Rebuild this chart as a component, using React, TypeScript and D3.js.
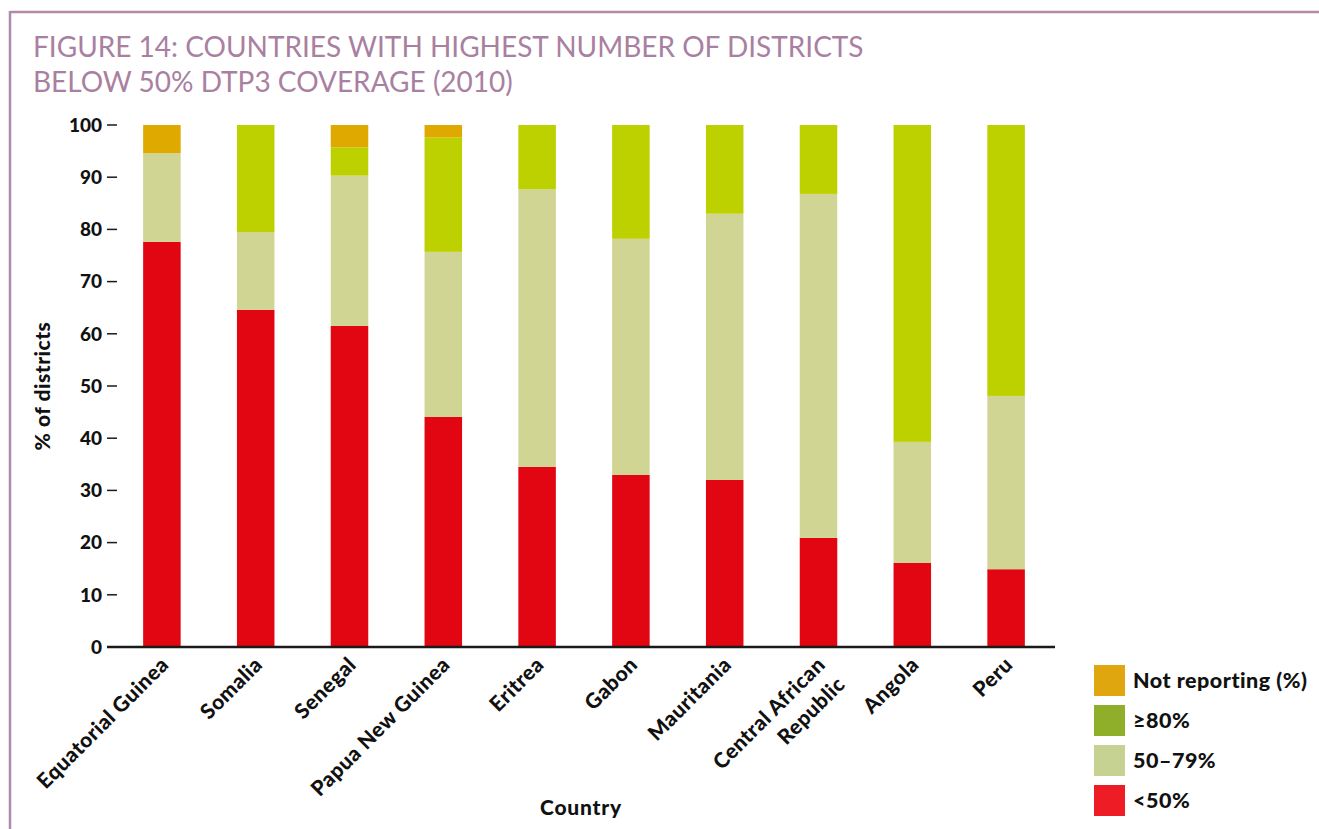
import React from "react";
import * as d3 from "d3";

const categories = ["Equatorial Guinea", "Somalia", "Senegal", "Papua New Guinea", "Eritrea", "Gabon", "Mauritania", "Central African Republic", "Angola", "Peru"];
const labelLines = [["Equatorial Guinea"], ["Somalia"], ["Senegal"], ["Papua New Guinea"], ["Eritrea"], ["Gabon"], ["Mauritania"], ["Central African", "Republic"], ["Angola"], ["Peru"]];
const below50 = [77.6, 64.6, 61.5, 44.1, 34.5, 33.0, 32.0, 20.9, 16.1, 14.9];
const from50to79 = [17.0, 14.9, 28.8, 31.6, 53.2, 45.2, 51.0, 65.9, 23.2, 33.2];
const above80 = [0, 20.5, 5.4, 21.9, 12.3, 21.8, 17.0, 13.2, 60.7, 51.9];
const notReporting = [5.4, 0, 4.3, 2.4, 0, 0, 0, 0, 0, 0];
const yTicks = [0, 10, 20, 30, 40, 50, 60, 70, 80, 90, 100];

const seriesNames = ["<50%", "50–79%", "≥80%", "Not reporting (%)"];
const seriesValues = [below50, from50to79, above80, notReporting];
const barColors = ["#e20613", "#d0d593", "#bdd000", "#e0a900"];
const legendColors = ["#ee1c25", "#c6d292", "#8fae2a", "#e0a60f"];

const W = 1319;
const H = 829;
const FONT = "Lato, 'Open Sans', sans-serif";

export default function App() {
  const x = d3.scaleBand<string>().domain(categories).range([115, 1053]).paddingInner(0.6).paddingOuter(0.3);
  const y = d3.scaleLinear().domain([0, 100]).range([647, 125]);

  const rows = categories.map((c, i) => {
    const r: any = { country: c };
    seriesNames.forEach((s, k) => (r[s] = seriesValues[k][i]));
    return r;
  });
  const stacked = d3.stack<any>().keys(seriesNames)(rows);

  const legendOrder = [3, 2, 1, 0];

  return (
    <svg width={W} height={H} style={{ position: "absolute", left: 0, top: 0, background: "#fff" }} fontFamily={FONT}>
      {/* frame */}
      <line x1={10} y1={12} x2={W} y2={12} stroke="#b08aa8" strokeWidth={2.5} />
      <line x1={10} y1={11} x2={10} y2={H} stroke="#b08aa8" strokeWidth={2.5} />

      {/* title */}
      <text x={33} y={57} fontSize={28} fill="#a9809f" fontWeight={400}>
        FIGURE 14: COUNTRIES WITH HIGHEST NUMBER OF DISTRICTS
      </text>
      <text x={33} y={92} fontSize={28} fill="#a9809f" fontWeight={400}>
        BELOW 50% DTP3 COVERAGE (2010)
      </text>

      {/* bars */}
      {stacked.map((layer, k) => (
        <g key={layer.key} fill={barColors[k]}>
          {layer.map((d, i) =>
            d[1] - d[0] > 0 ? (
              <rect key={i} x={x(categories[i])} width={x.bandwidth()} y={y(d[1])} height={y(d[0]) - y(d[1])} />
            ) : null
          )}
        </g>
      ))}

      {/* y axis ticks */}
      {yTicks.map((t) => (
        <g key={t} transform={`translate(0,${y(t)})`}>
          <line x1={107} x2={117} stroke="#1a1a1a" strokeWidth={1.5} />
          <text x={102} dy="0.36em" textAnchor="end" fontSize={19} fontWeight={900} fill="#111">
            {t}
          </text>
        </g>
      ))}
      {/* x axis line */}
      <line x1={107} x2={1055} y1={y(0)} y2={y(0)} stroke="#1a1a1a" strokeWidth={2.5} />

      {/* x labels */}
      {categories.map((c, i) => {
        const cx = (x(c) as number) + x.bandwidth() / 2;
        return (
          <text key={c} transform={`translate(${cx + 8},${666}) rotate(-45)`} textAnchor="end" fontSize={21} letterSpacing={0.5} fontWeight={900} fill="#111">
            {labelLines[i].map((ln, j) => (
              <tspan key={j} x={0} dy={j === 0 ? 0 : 28}>
                {ln}
              </tspan>
            ))}
          </text>
        );
      })}

      {/* axis titles */}
      <text transform={`translate(50,${y(50)}) rotate(-90)`} textAnchor="middle" fontSize={21} letterSpacing={0.5} fontWeight={900} fill="#111">
        % of districts
      </text>
      <text x={581} y={815} textAnchor="middle" fontSize={21} letterSpacing={0.8} fontWeight={900} fill="#111">
        Country
      </text>

      {/* legend */}
      {legendOrder.map((k, j) => (
        <g key={k} transform={`translate(1094,${665 + j * 40})`}>
          <rect width={31} height={31} fill={legendColors[k]} />
          <text x={39} y={15.5} dy="0.36em" fontSize={21.5} letterSpacing={0.5} fontWeight={900} fill="#111">
            {seriesNames[k]}
          </text>
        </g>
      ))}
    </svg>
  );
}
